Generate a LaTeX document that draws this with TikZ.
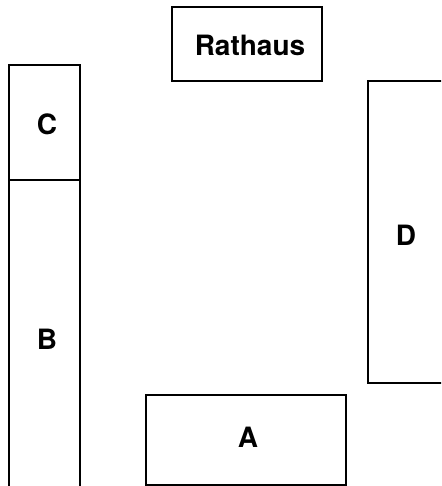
\documentclass[tikz,border=0pt]{standalone}
\usepackage{fontspec}
\setmainfont{TeX Gyre Heros}

\begin{document}
\begin{tikzpicture}[x=0.5pt, y=-0.5pt, line width=1.25pt,
    every node/.style={font=\fontsize{14}{16}\selectfont\bfseries}]
      \useasboundingbox (0,0) rectangle (441,486);
      \clip (0,0) rectangle (441,486);
      % Rathaus box
      \draw (172,7) rectangle (322,81);
      \node (rathaus) at (250,45) {Rathaus};
      % C and B column on the left
      \draw (9,65) rectangle (80,500);
      \draw (9,180) -- (80,180);
      \node (c) at (47,124) {C};
      \node (b) at (47,339) {B};
      % D box on the right
      \draw (368,81) rectangle (446,383);
      \node (d) at (406,235) {D};
      % A box at the bottom
      \draw (146,395) rectangle (346,485);
      \node (a) at (248,437) {A};
\end{tikzpicture}
\end{document}
